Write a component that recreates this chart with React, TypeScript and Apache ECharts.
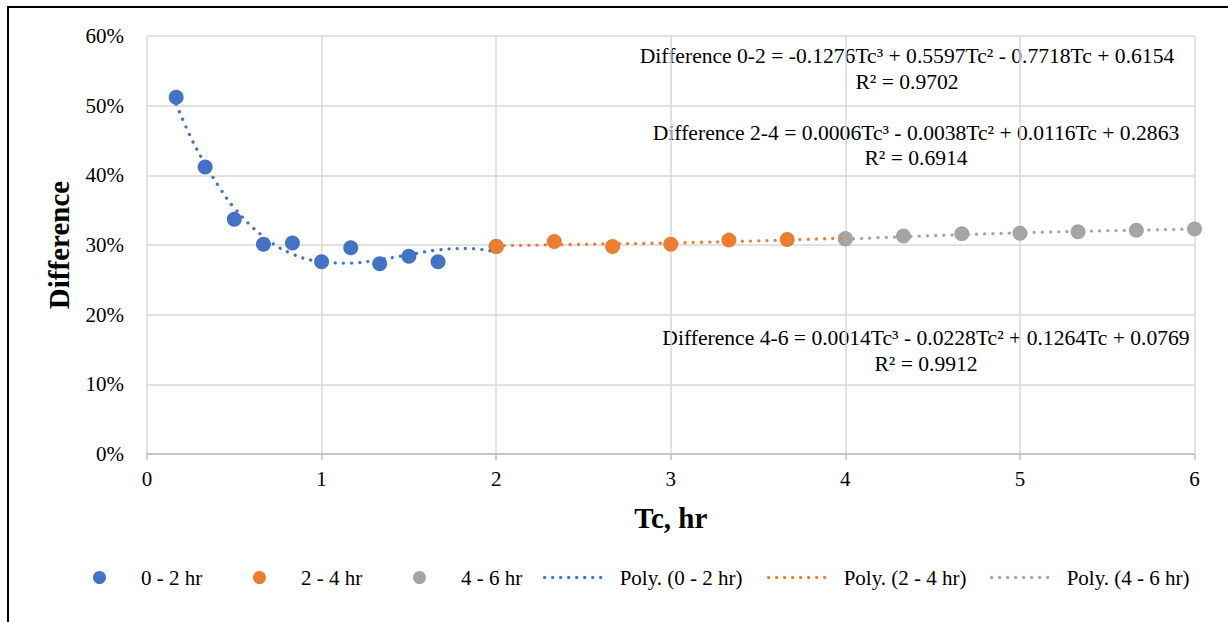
import React, { useEffect, useRef } from "react";
import * as echarts from "echarts";

// ---- data ----
const tc02 = [0.167, 0.333, 0.5, 0.667, 0.833, 1.0, 1.167, 1.333, 1.5, 1.667, 2.0];
const diff02 = [0.512, 0.412, 0.337, 0.301, 0.303, 0.276, 0.296, 0.273, 0.284, 0.276, 0.298];

const tc24 = [2.0, 2.333, 2.667, 3.0, 3.333, 3.667, 4.0];
const diff24 = [0.298, 0.305, 0.298, 0.301, 0.307, 0.308, 0.309];

const tc46 = [4.0, 4.333, 4.667, 5.0, 5.333, 5.667, 6.0];
const diff46 = [0.309, 0.313, 0.316, 0.317, 0.319, 0.321, 0.323];

// trend lines
const trendX02 = [0.167, 0.25, 0.333, 0.417, 0.5, 0.667, 0.833, 1.0, 1.167, 1.333, 1.5, 1.667, 1.833, 2.0];
const trendY02 = [0.502, 0.455, 0.416, 0.382, 0.353, 0.312, 0.287, 0.276, 0.274, 0.279, 0.286, 0.293, 0.295, 0.290];
const trendX24 = [2.0, 2.5, 3.0, 3.5, 4.0];
const trendY24 = [0.299, 0.301, 0.303, 0.306, 0.31];
const trendX46 = [4.0, 4.5, 5.0, 5.5, 6.0];
const trendY46 = [0.3085, 0.3135, 0.3175, 0.3205, 0.323];

const yTicks = [0, 0.1, 0.2, 0.3, 0.4, 0.5, 0.6];
const xTicks = [0, 1, 2, 3, 4, 5, 6];

const seriesNames = ["0 - 2 hr", "2 - 4 hr", "4 - 6 hr", "Poly. (0 - 2 hr)", "Poly. (2 - 4 hr)", "Poly. (4 - 6 hr)"];
const colors = ["#4472C4", "#ED7D31", "#A5A5A5"];

const equations = [
  "Difference 0-2 = -0.1276Tc³ + 0.5597Tc² - 0.7718Tc + 0.6154",
  "Difference 2-4 = 0.0006Tc³ - 0.0038Tc² + 0.0116Tc + 0.2863",
  "Difference 4-6 = 0.0014Tc³ - 0.0228Tc² + 0.1264Tc + 0.0769",
];
const rSquared = ["R² = 0.9702", "R² = 0.6914", "R² = 0.9912"];

const FONT = '"Liberation Serif", "Times New Roman", serif';

const zip = (xs: number[], ys: number[]) => xs.map((x, i) => [x, ys[i]]);

export default function App() {
  const ref = useRef<HTMLDivElement>(null);

  useEffect(() => {
    if (!ref.current) return;
    const chart = echarts.init(ref.current, undefined, { renderer: "svg" });

    const scatterData = [zip(tc02, diff02), zip(tc24, diff24), zip(tc46, diff46)];
    const trendData = [zip(trendX02, trendY02), zip(trendX24, trendY24), zip(trendX46, trendY46)];

    const scatterSeries = scatterData.map((d, i) => ({
      name: seriesNames[i],
      type: "scatter",
      data: d,
      symbol: "circle",
      symbolSize: 15,
      itemStyle: { color: colors[i], opacity: 1 },
      z: 2,
    }));
    const trendSeries = trendData.map((d, i) => ({
      name: seriesNames[i + 3],
      type: "line",
      data: d,
      symbol: "none",
      showSymbol: false,
      smooth: 0.4,
      lineStyle: { color: colors[i], width: 3.3, type: [0.01, 8.2], cap: "round" },
      itemStyle: { color: colors[i] },
      z: 3,
    }));

    const legendLefts = [93, 253, 413, 543, 767, 990];
    const legends = seriesNames.map((n, i) => {
      const isLine = i >= 3;
      const lg: any = {
        data: [n],
        left: legendLefts[i],
        top: 567,
        padding: 0,
        itemWidth: isLine ? 63 : 13,
        itemHeight: 13,
        selectedMode: false,
        textStyle: {
          fontFamily: FONT,
          fontSize: 21,
          color: "#000",
          padding: [0, 0, 0, isLine ? 7 : 30],
        },
      };
      if (isLine) {
        lg.itemStyle = { color: "rgba(0,0,0,0)", opacity: 0, borderWidth: 0 };
        lg.lineStyle = { width: 3.3, type: [0.01, 8], cap: "round" };
      } else {
        lg.icon = "circle";
      }
      return lg;
    });

    const eqPos = [
      [907, 56, 82],
      [916, 133, 158],
      [926, 338, 364],
    ];
    const graphics: any[] = [];
    eqPos.forEach((p, i) => {
      graphics.push({
        type: "text",
        x: p[0],
        y: p[1],
        style: { text: equations[i], font: `21.6px ${FONT}`, fill: "#000", align: "center", verticalAlign: "middle" },
      });
      graphics.push({
        type: "text",
        x: p[0],
        y: p[2],
        style: { text: rSquared[i], font: `21.6px ${FONT}`, fill: "#000", align: "center", verticalAlign: "middle" },
      });
    });

    chart.setOption({
      animation: false,
      backgroundColor: "#fff",
      textStyle: { fontFamily: FONT },
      grid: { left: 147, right: 33.5, top: 36, bottom: 168, containLabel: false },
      xAxis: {
        type: "value",
        min: xTicks[0],
        max: xTicks[xTicks.length - 1],
        interval: 1,
        name: "Tc, hr",
        nameLocation: "middle",
        nameGap: 49,
        nameTextStyle: { fontFamily: FONT, fontSize: 29, fontWeight: "bold", color: "#000" },
        axisLine: { show: true, onZero: false, lineStyle: { color: "#BFBFBF", width: 1.5 } },
        axisTick: { show: true, length: 6, lineStyle: { color: "#BFBFBF", width: 1.5 } },
        axisLabel: { fontFamily: FONT, fontSize: 21, color: "#000", margin: 14 },
        splitLine: { show: true, lineStyle: { color: "#D9D9D9", width: 1.5 } },
      },
      yAxis: {
        type: "value",
        min: yTicks[0],
        max: yTicks[yTicks.length - 1],
        interval: 0.1,
        name: "Difference",
        nameLocation: "middle",
        nameGap: 74,
        nameRotate: 90,
        nameTextStyle: { fontFamily: FONT, fontSize: 29, fontWeight: "bold", color: "#000" },
        axisLine: { show: false },
        axisTick: { show: false },
        axisLabel: {
          fontFamily: FONT,
          fontSize: 21,
          color: "#000",
          margin: 23,
          formatter: (v: number) => `${Math.round(v * 100)}%`,
        },
        splitLine: { show: true, lineStyle: { color: "#D9D9D9", width: 1.5 } },
      },
      legend: legends,
      graphic: graphics,
      series: [...scatterSeries, ...trendSeries],
    } as any);

    return () => chart.dispose();
  }, []);

  return (
    <>
      <div ref={ref} style={{ position: "fixed", left: 0, top: 0, width: 1228, height: 622 }} />
      <div
        style={{
          position: "fixed",
          left: 7,
          top: 6,
          width: 1400,
          height: 800,
          borderTop: "2px solid #000",
          borderLeft: "2px solid #000",
          pointerEvents: "none",
        }}
      />
    </>
  );
}
